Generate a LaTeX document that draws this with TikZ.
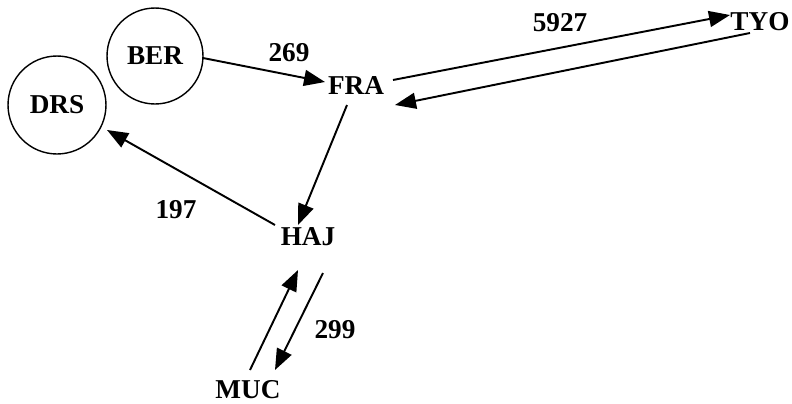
\documentclass[tikz,border=0pt]{standalone}
\usepackage{fontspec}
\setmainfont{Liberation Serif}
\usetikzlibrary{arrows.meta,calc}
\begin{document}
\begin{tikzpicture}[x=0.02cm,y=-0.02cm]
                \tikzset{
                    city/.style={inner sep=0pt, font=\fontsize{15.5}{18}\selectfont\bfseries},
                    hub/.style={city, draw, circle, line width=0.8pt},
                    cost/.style={inner sep=0pt, font=\fontsize{15.5}{18}\selectfont\bfseries},
                    route/.style={line width=1.1pt, -{Triangle[length=0.42cm,width=0.32cm]}}
                }
                \useasboundingbox (0,0) rectangle (792,403);
                
                \draw node[hub, minimum size=1.92cm] (ber) at (155,56) {BER};
                \draw node[hub, minimum size=1.96cm] (drs) at (57,105) {DRS};
                \draw node[city] (fra) at (356,86) {FRA};
                \draw node[city] (tyo) at (760,22) {TYO};
                \draw node[city] (haj) at (308,237) {HAJ};
                \draw node[city] (muc) at (248,390) {MUC};
                
                \draw node[cost] (c269) at (289,53) {269};
                \draw node[cost] (c5927) at (560,23) {5927};
                \draw node[cost] (c197) at (176,210) {197};
                \draw node[cost] (c299) at (335,330) {299};
                
                \foreach \a/\da/\b/\db in {%
                    ber/{48,2}/fra/{-31,-4},
                    fra/{37,-6}/tyo/{-30,-7},
                    tyo/{-10,11}/fra/{39,19},
                    fra/{-9,19}/haj/{-10,-12},
                    haj/{-33,-12}/drs/{50,25},
                    muc/{2,-20}/haj/{-10,33},
                    haj/{15,36}/muc/{27,-20}%
                }{
                \draw[route] ($(\a)+(\da)$) -- ($(\b)+(\db)$);
                }
            \end{tikzpicture}
\end{document}
